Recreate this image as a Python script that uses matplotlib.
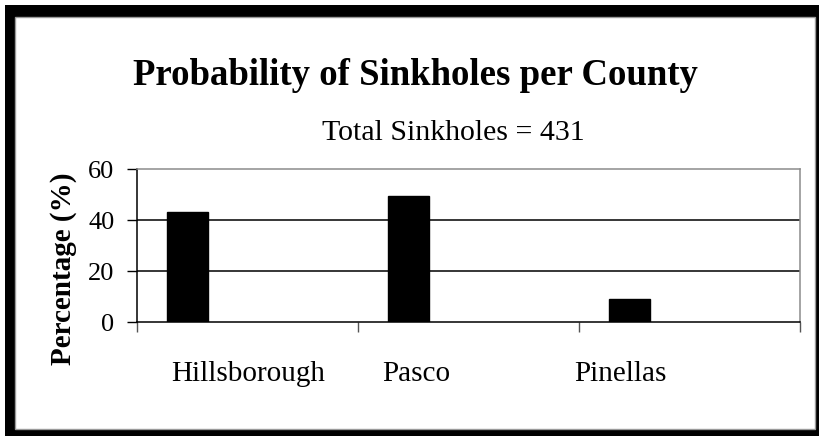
import matplotlib
matplotlib.use("Agg")
import matplotlib.pyplot as plt
from matplotlib.patches import Rectangle

counties = ["Hillsborough", "Pasco", "Pinellas"]
percent = [43.4, 49.4, 9.1]
label_pos = [0.502, 1.262, 2.188]
y_ticks = [0, 20, 40, 60]

plt.rcParams["font.family"] = ["Liberation Serif", "DejaVu Serif"]

W, H = 820, 436
fig = plt.figure(figsize=(W / 100, H / 100), dpi=100)

# black picture frame around the whole chart
fig.patches.append(Rectangle((5 / W, 0), 815 / W, 431 / H, transform=fig.transFigure,
                             facecolor="black", edgecolor="none", zorder=-2))
fig.patches.append(Rectangle((15 / W, 7 / H), 800 / W, 412 / H, transform=fig.transFigure,
                             facecolor="white", edgecolor="#9a9a9a", lw=1, zorder=-1))

ax = fig.add_axes([137 / W, (H - 322.3) / H, 663 / W, 153 / H])
ax.set_facecolor("none")

x = range(len(counties))
ax.bar([i + 0.135 for i in x], percent, width=0.186, align="edge", color="black",
       edgecolor="black", zorder=3)

ax.set_xlim(0, len(counties))
ax.set_ylim(0, 60)
ax.set_yticks(y_ticks)
ax.tick_params(axis="y", direction="out", length=7.2, width=1, color="black",
               labelsize=19, pad=9)
for v in y_ticks[1:-1]:
    ax.axhline(v, color="black", lw=1.1, zorder=1)

# county names sit under the bars, category boundaries get the tick marks
ax.set_xticks(label_pos)
ax.set_xticklabels(counties)
ax.tick_params(axis="x", which="major", length=0, labelsize=21, pad=28)
ax.set_xticks(range(len(counties) + 1), minor=True)
ax.tick_params(axis="x", which="minor", direction="out", length=7.2, width=1, color="#555555")

for side in ("left", "bottom"):
    ax.spines[side].set_color("black")
    ax.spines[side].set_linewidth(1.1)
for side in ("top", "right"):
    ax.spines[side].set_color("#8c8c8c")
    ax.spines[side].set_linewidth(1.1)

ax.set_ylabel("Percentage (%)", fontsize=21, fontweight="bold", va="center")
ax.yaxis.set_label_coords(-0.111, 0.352)

fig.text(415 / W, 1 - 85 / H, "Probability of Sinkholes per County", ha="center",
         va="baseline", fontsize=26.5, fontweight="bold")
fig.text(453 / W, 1 - 140 / H, "Total Sinkholes = 431", ha="center", va="baseline",
         fontsize=21.5)

fig.savefig("out.png", dpi=100)
